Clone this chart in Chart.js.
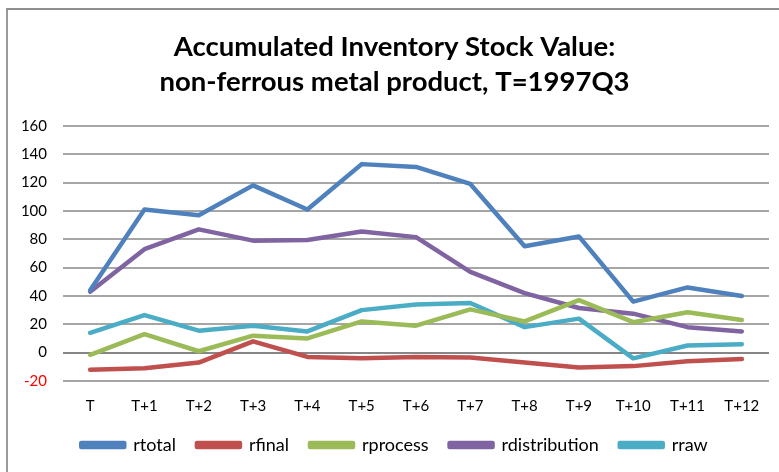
<!DOCTYPE html>
<html lang="en">
<head>
    <meta charset="UTF-8">
    <script src="https://cdn.jsdelivr.net/npm/chart.js"></script>
    <title>Accumulated Inventory Stock Value</title>
    <style>
        body { margin: 0; background: #fff; }
        .frame {
            position: absolute; left: 6px; top: 8px;
            width: 773px; height: 464px;
            border-top: 2px solid #8f8f8f; border-left: 2px solid #9a9a9a;
        }
    </style>
</head>
<body>
    <div class="frame">
        <canvas id="chart" width="773" height="462"></canvas>
    </div>

    <script>
        // quarters after T
        const periods = ['T', 'T+1', 'T+2', 'T+3', 'T+4', 'T+5', 'T+6', 'T+7', 'T+8', 'T+9', 'T+10', 'T+11', 'T+12'];

        const rtotal = [44, 101, 97, 118, 101, 133, 131, 119, 75, 82, 36, 46, 40];
        const rfinal = [-12, -11, -7, 8, -3, -4, -3, -3.5, -7, -10.5, -9.5, -6, -4.5];
        const rprocess = [-1.5, 13, 1, 12, 10, 22, 19, 30.5, 22, 37, 21.5, 28.5, 23];
        const rdistribution = [43, 73, 87, 79, 79.5, 85.5, 81.5, 57, 42, 31.5, 27.5, 18, 15];
        const rraw = [14, 26.5, 15.5, 19, 15, 30, 34, 35, 18, 24, -4, 5, 6];

        const yTicks = { min: -20, max: 160, step: 20 };

        const fontFam = 'Lato, "Open Sans", sans-serif';

        function series(label, data, color) {
            return {
                label: label,
                data: data,
                borderColor: color,
                backgroundColor: color,
                borderWidth: 4.5,
                pointRadius: 0,
                tension: 0,
                borderJoinStyle: 'round',
                borderCapStyle: 'round'
            };
        }

        new Chart(document.getElementById('chart'), {
            type: 'line',
            data: {
                labels: periods,
                datasets: [
                    series('rtotal', rtotal, '#4F81BD'),
                    series('rfinal', rfinal, '#C0504D'),
                    series('rprocess', rprocess, '#9BBB59'),
                    series('rdistribution', rdistribution, '#8064A2'),
                    series('rraw', rraw, '#4BACC6')
                ]
            },
            options: {
                responsive: false,
                animation: false,
                layout: { padding: { left: 12, right: 12, top: 20, bottom: 8 } },
                plugins: {
                    title: {
                        display: true,
                        text: ['Accumulated Inventory Stock Value:', 'non-ferrous metal product, T=1997Q3'],
                        color: '#000',
                        font: { family: fontFam, size: 27.5, weight: 'bold', lineHeight: 1.27 },
                        padding: { top: 0, bottom: 26 }
                    },
                    legend: {
                        position: 'bottom',
                        labels: {
                            color: '#000',
                            font: { family: fontFam, size: 18 },
                            boxWidth: 43,
                            boxHeight: 4,
                            padding: 21
                        }
                    },
                    tooltip: { enabled: false }
                },
                scales: {
                    x: {
                        offset: true,
                        grid: { display: false, drawTicks: true, tickLength: 16 },
                        border: { display: false },
                        ticks: { color: '#000', font: { family: fontFam, size: 15 }, padding: 0, maxRotation: 0 }
                    },
                    y: {
                        min: yTicks.min,
                        max: yTicks.max,
                        afterFit: function (scale) { scale.width = 43; },
                        border: { display: false },
                        grid: {
                            color: ctx => ctx.tick && ctx.tick.value === 0 ? '#868686' : '#a6a6a6',
                            lineWidth: 2,
                            drawTicks: false
                        },
                        ticks: {
                            stepSize: yTicks.step,
                            padding: 16,
                            color: ctx => ctx.tick.value < 0 ? '#ff0000' : '#000',
                            font: { family: fontFam, size: 15 }
                        }
                    }
                }
            }
        });
    </script>
</body>
</html>
